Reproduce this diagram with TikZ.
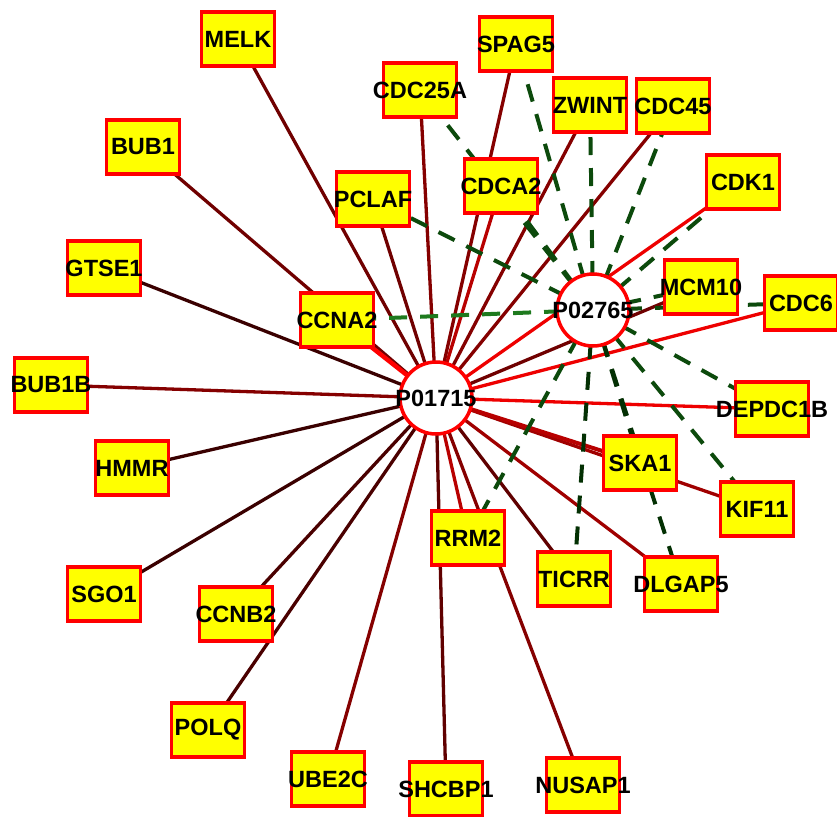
\documentclass[tikz,border=0pt]{standalone}
\usepackage{fontspec}
\setmainfont{Liberation Sans}
\pgfdeclarelayer{bg}
\pgfsetlayers{bg,main}
\definecolor{boxred}{HTML}{FF0000}
\definecolor{boxyellow}{HTML}{FFFF00}
\definecolor{eA}{HTML}{3A0000}
\definecolor{eB}{HTML}{4A0000}
\definecolor{eC}{HTML}{600000}
\definecolor{eD}{HTML}{700000}
\definecolor{eE}{HTML}{850000}
\definecolor{eF}{HTML}{A00000}
\definecolor{eG}{HTML}{B80000}
\definecolor{eH}{HTML}{EE0000}
\definecolor{gA}{HTML}{1E7A1E}
\definecolor{gB}{HTML}{0C4A0C}
\definecolor{gC}{HTML}{033003}
\newcommand{\genefont}{\fontsize{23.5}{28}\selectfont\bfseries}
\newcommand{\gl}[1]{\makebox[0pt]{#1}}
\tikzset{
  gene/.style={draw=boxred, fill=boxyellow, line width=3.8pt, minimum width=73pt, minimum height=54pt, inner sep=0pt, font=\genefont},
  hub/.style={circle, draw=boxred, fill=white, line width=3.5pt, minimum size=72pt, inner sep=0pt, font=\genefont},
  solidedge/.style={line width=3.3pt},
  dashedge/.style={line width=4pt, dash pattern=on 18pt off 13pt}
}
\begin{document}
\begin{tikzpicture}[x=1pt,y=-1pt]
\useasboundingbox (0,0) rectangle (837,816);
% hubs
\node[hub] (A) at (436,398) {\gl{P01715}};
\node[hub] (B) at (593,310) {\gl{P02765}};
% genes
\node[gene] (MELK) at (238,39) {\gl{MELK}};
\node[gene] (BUB1) at (143,147) {\gl{BUB1}};
\node[gene] (GTSE1) at (104,268) {\gl{GTSE1}};
\node[gene] (BUB1B) at (51,385) {\gl{BUB1B}};
\node[gene] (HMMR) at (132,468) {\gl{HMMR}};
\node[gene] (SGO1) at (104,594) {\gl{SGO1}};
\node[gene] (CCNB2) at (236,614) {\gl{CCNB2}};
\node[gene] (POLQ) at (208,730) {\gl{POLQ}};
\node[gene] (UBE2C) at (328,779) {\gl{UBE2C}};
\node[gene] (SHCBP1) at (446,789) {\gl{SHCBP1}};
\node[gene] (NUSAP1) at (583,785) {\gl{NUSAP1}};
\node[gene] (RRM2) at (468,538) {\gl{RRM2}};
\node[gene] (TICRR) at (574,579) {\gl{TICRR}};
\node[gene] (DLGAP5) at (681,584) {\gl{DLGAP5}};
\node[gene] (SKA1) at (640,463) {\gl{SKA1}};
\node[gene] (KIF11) at (757,509) {\gl{KIF11}};
\node[gene] (DEPDC1B) at (772,409) {\gl{DEPDC1B}};
\node[gene] (CDC6) at (801,303) {\gl{CDC6}};
\node[gene] (MCM10) at (701,287) {\gl{MCM10}};
\node[gene] (CDK1) at (743,182) {\gl{CDK1}};
\node[gene] (CDC45) at (673,106) {\gl{CDC45}};
\node[gene] (ZWINT) at (590,105) {\gl{ZWINT}};
\node[gene] (SPAG5) at (516,44) {\gl{SPAG5}};
\node[gene] (CDCA2) at (501,186) {\gl{CDCA2}};
\node[gene] (CDC25A) at (420,90) {\gl{CDC25A}};
\node[gene] (PCLAF) at (373,199) {\gl{PCLAF}};
\node[gene] (CCNA2) at (337,320) {\gl{CCNA2}};
\begin{pgfonlayer}{bg}
% solid edges to P01715
\draw[solidedge, eD] (MELK.center) -- (A.center);
\draw[solidedge, eD] (BUB1.center) -- (A.center);
\draw[solidedge, eA] (GTSE1.center) -- (A.center);
\draw[solidedge, eE] (BUB1B.center) -- (A.center);
\draw[solidedge, eA] (HMMR.center) -- (A.center);
\draw[solidedge, eA] (SGO1.center) -- (A.center);
\draw[solidedge, eB] (CCNB2.center) -- (A.center);
\draw[solidedge, eB] (POLQ.center) -- (A.center);
\draw[solidedge, eE] (UBE2C.center) -- (A.center);
\draw[solidedge, eC] (SHCBP1.center) -- (A.center);
\draw[solidedge, eE] (NUSAP1.center) -- (A.center);
\draw[solidedge, eG] (RRM2.center) -- (A.center);
\draw[solidedge, eC] (TICRR.center) -- (A.center);
\draw[solidedge, eF] (DLGAP5.center) -- (A.center);
\draw[solidedge, eF] (KIF11.center) -- (A.center);
\draw[solidedge, eG, line width=4pt] (SKA1.center) -- (A.center);
\draw[solidedge, eH] (DEPDC1B.center) -- (A.center);
\draw[solidedge, eH] (CDC6.center) -- (A.center);
\draw[solidedge, eD] (MCM10.center) -- (A.center);
\draw[solidedge, eH] (CDK1.center) -- (A.center);
\draw[solidedge, eE] (CDC45.center) -- (A.center);
\draw[solidedge, eE] (ZWINT.center) -- (A.center);
\draw[solidedge, eE] (SPAG5.center) -- (A.center);
\draw[solidedge, eG] (CDCA2.center) -- (A.center);
\draw[solidedge, eE] (CDC25A.center) -- (A.center);
\draw[solidedge, eD] (PCLAF.center) -- (A.center);
\draw[solidedge, boxred, line width=4.5pt] (CCNA2.center) -- (A.center);
% dashed edges to P02765
\draw[dashedge, gA] (B.center) -- (CCNA2.center);
\draw[dashedge, gB] (B.center) -- (PCLAF.center);
\draw[dashedge, gB] (B.center) -- (CDC25A.center);
\draw[dashedge, gB] (B.center) -- (CDCA2.center);
\draw[dashedge, gB] (B.center) -- (SPAG5.center);
\draw[dashedge, gB] (B.center) -- (ZWINT.center);
\draw[dashedge, gB] (B.center) -- (CDC45.center);
\draw[dashedge, gB] (B.center) -- (CDK1.center);
\draw[dashedge, gB] (B.center) -- (MCM10.center);
\draw[dashedge, gB] (B.center) -- (CDC6.center);
\draw[dashedge, gB] (B.center) -- (DEPDC1B.center);
\draw[dashedge, gB] (B.center) -- (KIF11.center);
\draw[dashedge, gC] (B.center) -- (SKA1.center);
\draw[dashedge, gC] (B.center) -- (DLGAP5.center);
\draw[dashedge, gC] (B.center) -- (TICRR.center);
\draw[dashedge, gB] (B.center) -- (RRM2.center);
\end{pgfonlayer}
\end{tikzpicture}
\end{document}
